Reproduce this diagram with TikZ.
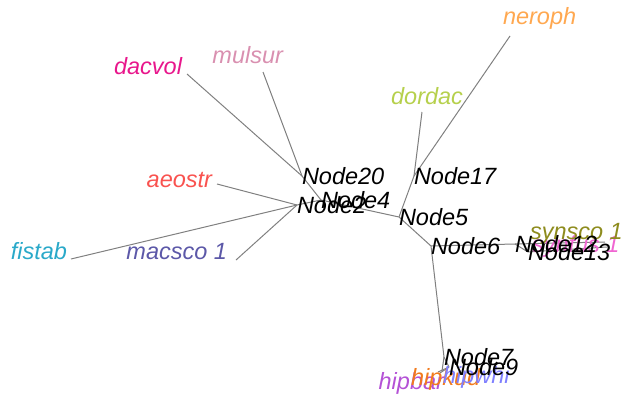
\documentclass[tikz,border=0pt]{standalone}
\usepackage{fontspec}
\setmainfont{Liberation Sans}
\definecolor{edgec}{HTML}{808080}
\definecolor{cfistab}{HTML}{2AA9C9}
\definecolor{cmacsco}{HTML}{5C58A8}
\definecolor{caeostr}{HTML}{F9524F}
\definecolor{cdacvol}{HTML}{E8178C}
\definecolor{cmulsur}{HTML}{D990B0}
\definecolor{cdordac}{HTML}{B6D04C}
\definecolor{cneroph}{HTML}{FFA850}
\definecolor{csynsco}{HTML}{8E8C1E}
\definecolor{cpink}{HTML}{F066D2}
\definecolor{cpurple}{HTML}{B452D6}
\definecolor{corange}{HTML}{F27A1C}
\definecolor{cblue}{HTML}{7F80FF}
\begin{document}
\begin{tikzpicture}[x=1pt,y=-1pt,
  edge/.style={draw=edgec,line width=1pt},
  lab/.style={inner sep=0pt,outer sep=0pt,font=\fontsize{23.5}{24}\selectfont\itshape},
  intlab/.style={lab,anchor=west,text=black}]
\useasboundingbox (0,0) rectangle (622,402);
% internal vertices
\coordinate (N2) at (297,205);
\coordinate (N20) at (302,176);
\coordinate (N4) at (321,200);
\coordinate (N5) at (399,217);
\coordinate (N17) at (414,176);
\coordinate (N6) at (431,246);
\coordinate (N12) at (515,244);
\coordinate (N13) at (528,252);
\coordinate (N7) at (444,357);
\coordinate (N9) at (449,367);
% tips
\coordinate (tfistab) at (71,259);
\coordinate (tmacsco) at (236,260);
\coordinate (taeostr) at (217,184);
\coordinate (tdacvol) at (187,74);
\coordinate (tmulsur) at (263,72);
\coordinate (tdordac) at (422,112);
\coordinate (tneroph) at (510,36);
\coordinate (tsynsco) at (605,242);
\coordinate (tpink) at (607,247);
\coordinate (tpurple) at (438,372);
\coordinate (torange) at (440,373);
\coordinate (tblue) at (442,371);
% edges
\draw[edge] (N2) -- (tfistab);
\draw[edge] (N2) -- (tmacsco);
\draw[edge] (N2) -- (taeostr);
\draw[edge] (N20) -- (tdacvol);
\draw[edge] (N20) -- (tmulsur);
\draw[edge] (N2) -- (N4);
\draw[edge] (N20) -- (N4);
\draw[edge] (N4) -- (N5);
\draw[edge] (N5) -- (N17);
\draw[edge] (N17) -- (tdordac);
\draw[edge] (N17) -- (tneroph);
\draw[edge] (N5) -- (N6);
\draw[edge] (N6) -- (N12);
\draw[edge] (N12) -- (N13);
\draw[edge] (N12) -- (tsynsco);
\draw[edge] (N13) -- (tpink);
\draw[edge] (N6) -- (N7);
\draw[edge] (N7) -- (N9);
\draw[edge] (N7) -- (tblue);
\draw[edge] (N9) -- (tpurple);
\draw[edge] (N9) -- (torange);
% tip labels
\node[lab,anchor=east,text=cfistab] (lfistab) at (67,251) {fistab};
\node[lab,anchor=east,text=cmacsco] (lmacsco) at (227,252) {macsco 1};
\node[lab,anchor=east,text=caeostr] (laeostr) at (212,180) {aeostr};
\node[lab,anchor=east,text=cdacvol] (ldacvol) at (182,66) {dacvol};
\node[lab,anchor=east,text=cmulsur] (lmulsur) at (283,55) {mulsur};
\node[lab,anchor=east,text=cdordac] (ldordac) at (463,96) {dordac};
\node[lab,anchor=west,text=cneroph] (lneroph) at (503,18) {neroph};
\node[lab,anchor=west,text=cpink] (lpink) at (532,246) {synfus 1};
\node[lab,anchor=west,text=csynsco] (lsynsco) at (530,234) {synsco 1};
\node[lab,anchor=east,text=cpurple] (lpurple) at (444,383) {hipbar};
\node[lab,anchor=west,text=corange] (lorange) at (411,379) {hipkud};
\node[lab,anchor=west,text=cblue] (lblue) at (443,377) {hipwhi};
% internal labels
\node[intlab] (l20) at (N20) {Node20};
\node[intlab] (l4) at (N4) {Node4};
\node[intlab] (l2) at (N2) {Node2};
\node[intlab] (l17) at (N17) {Node17};
\node[intlab] (l5) at (N5) {Node5};
\node[intlab] (l6) at (N6) {Node6};
\node[intlab] (l12) at (N12) {Node12};
\node[intlab] (l13) at (N13) {Node13};
\node[intlab] (l7) at (N7) {Node7};
\node[intlab] (l9) at (N9) {Node9};
\end{tikzpicture}
\end{document}
